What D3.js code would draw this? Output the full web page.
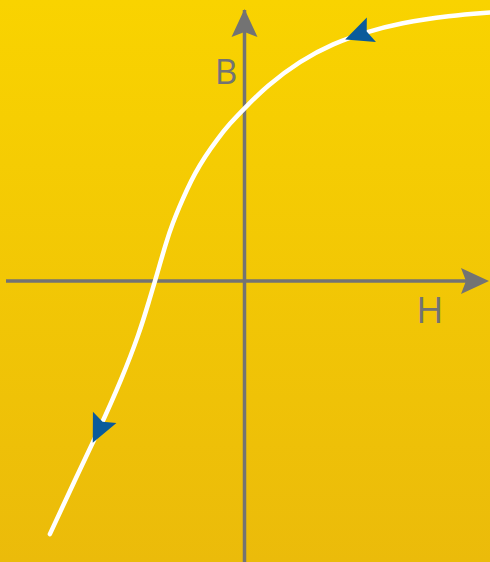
<!DOCTYPE html>
<html>
<head>
<meta charset="utf-8">
<script src="https://cdn.jsdelivr.net/npm/d3@7"></script>
<style>
  html, body { margin: 0; padding: 0; overflow: hidden; }
  svg { display: block; }
</style>
</head>
<body>
<div class="chart-container"></div>
<script>
var width = 490;
var height = 562;

// hysteresis branch, H and B in axis units (origin where the axes cross)
var curveH = [-0.816, -0.711, -0.606, -0.515, -0.441, -0.399, -0.375, -0.326, -0.301,
  -0.273, -0.242, -0.208, -0.166, -0.117, -0.061, 0, 0.093, 0.233, 0.372, 0.512,
  0.652, 0.862, 1.03];
var curveB = [-0.934, -0.734, -0.542, -0.362, -0.193, -0.070, 0, 0.151, 0.213,
  0.274, 0.336, 0.397, 0.459, 0.520, 0.582, 0.637, 0.720, 0.812, 0.877, 0.919,
  0.952, 0.980, 0.991];

// where the direction arrows sit on the curve
var arrowH = [0.421, -0.631];
var arrowB = [0.892, -0.599];

var axisLabels = ['H', 'B'];

var x = d3.scaleLinear()
  .domain([-1, 1])
  .range([6, 483]);

var y = d3.scaleLinear()
  .domain([-1, 1])
  .range([552, 10]);

var svg = d3.select('.chart-container').append('svg')
  .attr('width', width)
  .attr('height', height);

var grad = svg.append('defs').append('linearGradient')
  .attr('id', 'bg')
  .attr('x1', 0).attr('y1', 0).attr('x2', 0).attr('y2', 1);
grad.append('stop').attr('offset', '0%').attr('stop-color', '#f9d300');
grad.append('stop').attr('offset', '100%').attr('stop-color', '#ebbb0a');

svg.append('rect')
  .attr('width', width)
  .attr('height', height)
  .style('fill', 'url(#bg)');

var gray = '#737373';
var arrowPath = 'M0,0L-28,-13L-23,0L-28,13Z';

// H axis
svg.append('line')
  .attr('x1', x(-1)).attr('x2', x(1))
  .attr('y1', y(0)).attr('y2', y(0))
  .style('stroke', gray)
  .style('stroke-width', 3.5);

svg.append('path')
  .attr('d', arrowPath)
  .attr('transform', `translate(${x(1) + 6},${y(0)})`)
  .style('fill', gray);

// B axis
svg.append('line')
  .attr('x1', x(0)).attr('x2', x(0))
  .attr('y1', height).attr('y2', y(1))
  .style('stroke', gray)
  .style('stroke-width', 3.5);

svg.append('path')
  .attr('d', arrowPath)
  .attr('transform', `translate(${x(0)},${y(1) - 1}) rotate(-90)`)
  .style('fill', gray);

svg.append('text')
  .attr('x', 430)
  .attr('y', 323)
  .attr('text-anchor', 'middle')
  .style('font-family', '"Open Sans", sans-serif')
  .style('font-size', '37px')
  .style('fill', gray)
  .text(axisLabels[0]);

svg.append('text')
  .attr('x', 226)
  .attr('y', 83.5)
  .attr('text-anchor', 'middle')
  .style('font-family', '"Open Sans", sans-serif')
  .style('font-size', '35px')
  .style('fill', gray)
  .text(axisLabels[1]);

// curve
var pts = curveH.map((h, i) => ({h: h, b: curveB[i]}));

var line = d3.line()
  .x(d => x(d.h))
  .y(d => y(d.b))
  .curve(d3.curveBasis);

var curve = svg.append('path')
  .datum(pts)
  .attr('d', line)
  .style('fill', 'none')
  .style('stroke', '#fff')
  .style('stroke-width', 4.5)
  .style('stroke-linecap', 'round');

// arrows point from the top right end towards the bottom left end
var node = curve.node();
var total = node.getTotalLength();

function nearestLength(px, py) {
  var best = 0, bestD = Infinity;
  for (var l = 0; l <= total; l += 0.5) {
    var p = node.getPointAtLength(l);
    var d = (p.x - px) * (p.x - px) + (p.y - py) * (p.y - py);
    if (d < bestD) { bestD = d; best = l; }
  }
  return best;
}

arrowH.forEach(function(h, i) {
  var l = nearestLength(x(h), y(arrowB[i]));
  var p = node.getPointAtLength(l);
  var p0 = node.getPointAtLength(Math.min(total, l + 3));
  var p1 = node.getPointAtLength(Math.max(0, l - 3));
  var angle = Math.atan2(p1.y - p0.y, p1.x - p0.x) * 180 / Math.PI;
  svg.append('path')
    .attr('d', arrowPath)
    .attr('transform', `translate(${p.x},${p.y}) rotate(${angle})`)
    .style('fill', '#0a5b9b');
});
</script>
</body>
</html>
